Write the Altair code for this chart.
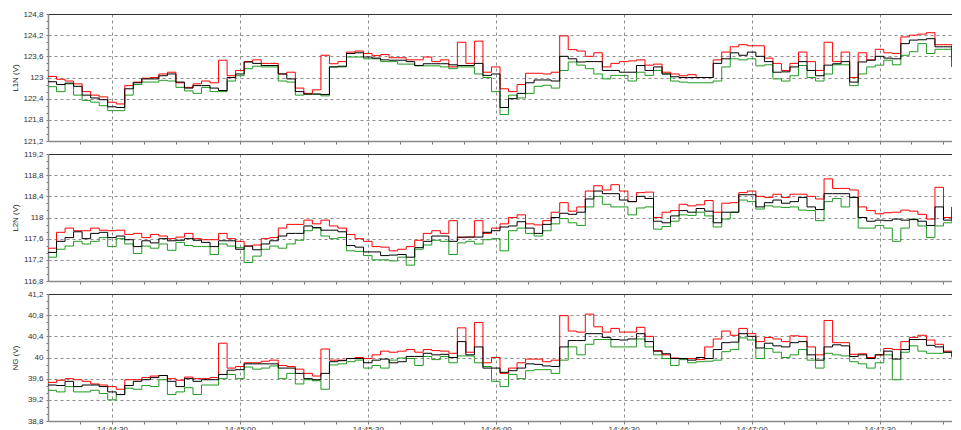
import altair as alt
import pandas as pd

# ---------------- data ----------------
START = "14:44:15"          # first sample
END = "14:47:47"            # right edge of the visible plot area
STEP_S = 2                  # sampling step used for the transcription (s)
MAJOR_TICKS = ["14:44:30", "14:45:00", "14:45:30", "14:46:00", "14:46:30", "14:47:00", "14:47:30"]
MINOR_STEP_S = 7.5
Y_SUBDIV = 3

L1N_TICKS = [121.2, 121.8, 122.4, 123.0, 123.6, 124.2, 124.8]
L2N_TICKS = [116.8, 117.2, 117.6, 118.0, 118.4, 118.8, 119.2]
NG_TICKS = [38.8, 39.2, 39.6, 40.0, 40.4, 40.8, 41.2]

L1N_RED = [123.03,122.95,122.9,122.82,122.6,122.5,122.45,122.3,122.25,122.77,
           122.87,122.98,123.0,123.1,123.15,122.85,122.72,122.82,122.9,122.85,
           123.49,123.05,123.2,123.45,123.5,123.4,123.4,123.1,123.15,122.7,
           122.55,122.65,123.63,123.39,123.45,123.72,123.75,123.68,123.62,123.65,
           123.56,123.56,123.5,123.5,123.58,123.45,123.5,123.3,124.0,123.4,
           124.03,123.15,123.3,122.68,
           122.6,122.8,123.12,123.12,123.1,123.15,124.18,123.79,123.75,123.6,
           123.7,123.3,123.4,123.45,123.47,123.5,123.35,123.38,123.15,123.1,
           123.05,123.08,123.0,123.0,123.5,123.72,123.87,123.93,123.9,123.9,
           123.55,123.4,123.2,123.4,123.72,123.45,123.2,124.0,123.45,123.72,
           123.0,123.7,123.5,123.8,123.7,123.68,124.15,124.2,124.23,124.27,
           123.93,123.93,123.5,123.3]
L1N_BLACK = [122.88,122.8,122.84,122.75,122.5,122.42,122.37,122.17,122.15,122.68,
             122.85,122.96,122.96,123.05,123.1,122.87,122.7,122.77,122.77,122.7,
             122.63,123.0,123.1,123.44,123.4,123.34,123.34,123.1,122.96,122.6,
             122.53,122.53,122.52,123.3,123.32,123.68,123.7,123.58,123.55,123.5,
             123.49,123.49,123.45,123.34,123.39,123.39,123.39,123.36,123.34,123.34,
             123.4,123.06,123.1,122.15,
             122.4,122.55,122.85,122.93,122.93,122.9,123.6,123.53,123.44,123.45,
             123.45,123.2,123.2,123.15,123.15,123.34,123.2,123.3,123.1,123.02,
             123.0,123.0,123.0,123.0,123.4,123.53,123.7,123.63,123.72,123.6,
             123.45,123.15,123.16,123.3,123.45,123.2,123.05,123.35,123.39,123.45,
             122.87,123.44,123.49,123.6,123.55,123.53,123.96,124.06,124.07,124.1,
             123.87,123.87,123.3,123.2]
L1N_GREEN = [122.74,122.6,122.82,122.5,122.35,122.3,122.2,122.06,122.06,122.5,
             122.8,122.87,122.87,122.92,122.9,122.72,122.62,122.55,122.72,122.6,
             122.6,122.9,123.05,123.25,123.32,123.3,123.3,122.9,122.87,122.5,
             122.53,122.53,122.48,123.3,123.3,123.58,123.58,123.53,123.53,123.45,
             123.45,123.38,123.38,123.33,123.33,123.33,123.3,123.25,123.3,123.3,
             123.1,123.0,122.6,121.95,
             122.5,122.42,122.55,122.75,122.78,122.7,123.2,123.44,123.35,123.25,
             123.1,122.96,123.06,123.06,122.9,123.15,123.06,123.2,123.1,122.9,
             122.87,122.85,122.85,122.85,122.9,123.3,123.53,123.5,123.53,123.33,
             123.36,122.96,122.9,123.05,123.34,123.0,122.9,123.1,123.36,123.36,
             122.77,123.1,123.3,123.35,123.49,123.36,123.63,123.73,123.96,123.68,
             123.8,123.8,123.3,123.15]

L2N_RED = [117.42,117.72,117.8,117.75,117.75,117.8,117.76,117.75,117.76,117.68,
           117.7,117.62,117.68,117.65,117.6,117.63,117.7,117.6,117.58,117.58,
           117.7,117.6,117.55,117.46,117.48,117.6,117.62,117.8,117.87,117.87,
           117.95,117.88,117.95,117.84,117.8,117.68,117.6,117.55,117.45,117.44,
           117.37,117.4,117.45,117.57,117.7,117.75,117.7,117.94,117.62,117.63,
           117.94,117.7,117.8,117.88,
           118.0,118.05,117.88,117.86,117.94,118.1,118.28,118.12,118.2,118.5,
           118.6,118.52,118.62,118.5,118.3,118.47,118.48,118.0,118.1,118.13,
           118.25,118.22,118.24,118.32,118.1,118.27,118.28,118.47,118.5,118.4,
           118.38,118.44,118.38,118.44,118.44,118.4,118.35,118.73,118.55,118.55,
           118.52,118.2,118.13,118.07,118.09,118.1,118.14,118.12,118.06,117.97,
           118.57,118.0,118.2,118.28]
L2N_BLACK = [117.34,117.55,117.62,117.73,117.6,117.7,117.72,117.62,117.65,117.58,
             117.45,117.56,117.52,117.6,117.56,117.57,117.6,117.57,117.53,117.45,
             117.56,117.56,117.4,117.46,117.39,117.5,117.56,117.65,117.7,117.7,
             117.84,117.81,117.76,117.76,117.73,117.47,117.44,117.35,117.35,117.28,
             117.29,117.3,117.25,117.43,117.55,117.65,117.65,117.55,117.63,117.63,
             117.63,117.72,117.75,117.82,
             117.84,117.92,117.8,117.7,117.87,118.0,118.08,118.06,118.1,118.35,
             118.5,118.45,118.45,118.33,118.3,118.4,118.36,117.93,117.9,118.03,
             118.13,118.1,118.17,118.12,117.9,118.1,118.1,118.43,118.43,118.2,
             118.28,118.33,118.27,118.3,118.38,118.2,118.15,118.45,118.45,118.45,
             118.38,118.0,117.93,117.95,117.94,117.97,117.95,117.96,117.93,117.85,
             118.2,117.95,118.2,118.28]
L2N_GREEN = [117.25,117.4,117.46,117.55,117.5,117.55,117.62,117.45,117.6,117.5,
             117.32,117.46,117.42,117.5,117.38,117.53,117.47,117.45,117.45,117.3,
             117.5,117.46,117.43,117.15,117.27,117.4,117.46,117.42,117.5,117.57,
             117.75,117.8,117.65,117.6,117.62,117.37,117.36,117.28,117.2,117.2,
             117.18,117.25,117.1,117.4,117.48,117.57,117.55,117.3,117.52,117.55,
             117.5,117.58,117.6,117.37,
             117.75,117.8,117.7,117.65,117.75,117.88,117.98,117.9,117.85,118.2,
             118.4,118.25,118.2,118.2,118.05,118.18,118.2,117.78,117.83,117.93,
             118.05,118.04,118.1,118.03,117.82,117.97,118.1,118.33,118.3,118.16,
             118.22,118.2,118.19,118.2,118.14,118.13,117.94,118.3,118.36,118.2,
             118.38,117.8,117.8,117.85,117.8,117.55,117.8,117.97,117.84,117.62,
             117.84,117.9,118.15,118.25]

NG_RED = [39.53,39.57,39.6,39.58,39.55,39.5,39.48,39.45,39.4,39.58,
          39.58,39.62,39.65,39.66,39.6,39.57,39.63,39.6,39.6,39.62,
          40.27,39.8,39.83,39.9,39.9,39.93,39.95,39.85,39.83,39.78,
          39.7,39.65,40.16,39.95,39.95,39.98,40.0,39.98,40.05,40.12,
          40.1,40.12,40.15,40.1,40.15,40.13,40.12,40.08,40.56,40.1,
          40.66,39.9,40.0,39.7,
          39.8,39.9,39.97,39.97,39.92,39.95,40.79,40.5,40.48,40.82,
          40.58,40.48,40.55,40.48,40.48,40.57,40.4,40.13,40.05,39.99,
          39.98,39.98,39.96,40.2,40.35,40.5,40.42,40.55,40.45,40.3,
          40.38,40.35,40.3,40.41,40.4,40.2,40.05,40.7,40.28,40.28,
          40.06,40.07,40.0,40.05,40.17,40.15,40.3,40.38,40.42,40.33,
          40.25,40.12,40.02,39.84]
NG_BLACK = [39.48,39.47,39.55,39.45,39.48,39.48,39.45,39.35,39.3,39.47,
            39.55,39.58,39.62,39.66,39.55,39.45,39.6,39.55,39.58,39.58,
            39.68,39.76,39.77,39.88,39.88,39.88,39.88,39.8,39.8,39.7,
            39.6,39.58,39.7,39.92,39.94,39.98,39.98,39.9,39.95,39.97,
            39.9,39.92,40.02,40.02,40.08,40.05,40.06,40.0,40.3,40.05,
            40.2,39.8,39.8,39.72,
            39.75,39.8,39.88,39.87,39.84,39.83,40.2,40.32,40.32,40.45,
            40.45,40.38,40.34,40.33,40.35,40.45,40.3,40.12,40.07,39.98,
            39.98,39.95,40.0,39.98,40.15,40.28,40.29,40.45,40.4,40.18,
            40.27,40.22,40.2,40.28,40.3,40.05,39.95,40.2,40.24,40.22,
            40.02,40.05,39.98,40.05,40.12,39.97,40.15,40.34,40.34,40.23,
            40.2,40.1,40.02,39.86]
NG_GREEN = [39.38,39.35,39.45,39.35,39.35,39.38,39.32,39.2,39.3,39.42,
            39.4,39.47,39.45,39.58,39.3,39.35,39.43,39.3,39.48,39.48,
            39.6,39.68,39.6,39.82,39.78,39.8,39.84,39.6,39.7,39.5,
            39.58,39.56,39.4,39.86,39.88,39.92,39.95,39.8,39.85,39.8,
            39.95,39.99,39.98,39.85,40.02,39.96,40.02,39.9,40.03,40.03,
            39.9,39.83,39.55,39.45,
            39.68,39.6,39.75,39.77,39.77,39.7,39.95,40.2,40.05,40.25,
            40.34,40.34,40.2,40.2,40.2,40.35,40.2,40.05,39.98,39.85,
            39.96,39.9,39.92,39.93,39.95,40.11,40.15,40.37,40.33,39.98,
            40.17,40.1,40.0,40.05,40.15,39.95,39.8,40.08,40.05,40.03,
            39.92,39.88,39.8,39.9,40.05,39.58,40.1,40.22,40.12,40.08,
            40.08,40.1,39.98,39.81]

# ---------------- helpers ----------------
def secs(hms):
    h, m, s = (int(v) for v in hms.split(":"))
    return h * 3600 + m * 60 + s

X0, X1 = secs(START), secs(END)
T = [X0 + STEP_S * i for i in range(len(L1N_BLACK))]
minor_x = []
v = X0 + MINOR_STEP_S
while v < X1:
    minor_x.append(v)
    v += MINOR_STEP_S
major_secs = [secs(s) for s in MAJOR_TICKS]

RED, BLACK, GREEN = "#ff0000", "#000000", "#1f9a1f"
FONT = "Liberation Sans"
GRID = "#8c8c8c"
X_MAJOR = "indexof([" + ",".join(str(m) for m in major_secs) + "], datum.value) >= 0"

PLOT_W, PLOT_H = 904, 127


def minor_y(ticks):
    step = (ticks[1] - ticks[0]) / Y_SUBDIV
    out = []
    for i in range(len(ticks) - 1):
        for k in range(Y_SUBDIV):
            out.append(round(ticks[i] + k * step, 4))
    out.append(ticks[-1])
    return out


def x_axis(show_labels):
    return alt.Axis(
        orient="bottom",
        values=minor_x,
        labels=show_labels,
        labelExpr=f"({X_MAJOR}) ? timeFormat(datetime(2020, 0, 1, 0, 0, datum.value), '%H:%M:%S') : ''",
        labelFont=FONT, labelFontSize=8, labelColor="#333", labelPadding=1,
        labelOverlap=False, labelFlush=False,
        grid=True, gridDash=[3, 3], gridColor=GRID,
        gridOpacity={"condition": {"test": X_MAJOR, "value": 1}, "value": 0},
        tickSize=3, tickColor="#777", domainColor="#8a8a8a", domainWidth=1.5,
        title=None,
    )


def top_axis():
    return alt.Axis(orient="top", labels=False, ticks=False, grid=False,
                    domainColor="#333", domainWidth=1, title=None)


def y_axis(title, ticks):
    major = "indexof([" + ",".join(str(t) for t in ticks) + "], datum.value) >= 0"
    return alt.Axis(
        values=minor_y(ticks),
        labelExpr=f"({major}) ? replace(format(datum.value, '.4~f'), '.', ',') : ''",
        labelFont=FONT, labelFontSize=8, labelColor="#333", labelPadding=3,
        labelOverlap=False, labelFlush=False,
        grid=True, gridDash=[3, 3], gridColor=GRID,
        gridOpacity={"condition": {"test": major, "value": 1}, "value": 0},
        tickSize=2, tickColor="#777", domainColor="#8a8a8a", domainWidth=1.5,
        minExtent=25, maxExtent=25,
        title=title, titleFont=FONT, titleFontSize=8, titleFontWeight="normal",
        titleColor="#222", titlePadding=4,
    )


def panel(red, black, green, title, ticks, show_labels):
    df = pd.DataFrame({"t": T, "red": red, "black": black, "green": green})
    xscale = alt.Scale(domain=[X0, X1], nice=False, zero=False)
    yscale = alt.Scale(domain=[ticks[0], ticks[-1]], nice=False, zero=False)
    x_axes = [x_axis(show_labels), top_axis(), None]
    y_axes = [y_axis(title, ticks), y_axis(title, ticks), y_axis(title, ticks)]
    layers = []
    for i, (col, colour) in enumerate([("green", GREEN), ("red", RED), ("black", BLACK)]):
        layers.append(
            alt.Chart(df).mark_line(interpolate="step-after", color=colour,
                                    strokeWidth=1, clip=True).encode(
                x=alt.X("t:Q", scale=xscale, axis=x_axes[i]),
                y=alt.Y(f"{col}:Q", scale=yscale, axis=y_axes[i]),
            )
        )
    return (alt.layer(*layers)
            .resolve_axis(x="independent")
            .properties(width=PLOT_W, height=PLOT_H))


chart = alt.vconcat(
    panel(L1N_RED, L1N_BLACK, L1N_GREEN, "L1N (V)", L1N_TICKS, False),
    panel(L2N_RED, L2N_BLACK, L2N_GREEN, "L2N (V)", L2N_TICKS, False),
    panel(NG_RED, NG_BLACK, NG_GREEN, "NG (V)", NG_TICKS, True),
    spacing=13,
    bounds="flush",
).properties(
    padding={"left": 3, "top": 2, "right": 0, "bottom": 0},
    background="white",
).configure_view(strokeWidth=0)

chart.save("out.html", embed_options={"renderer": "svg", "actions": False})
